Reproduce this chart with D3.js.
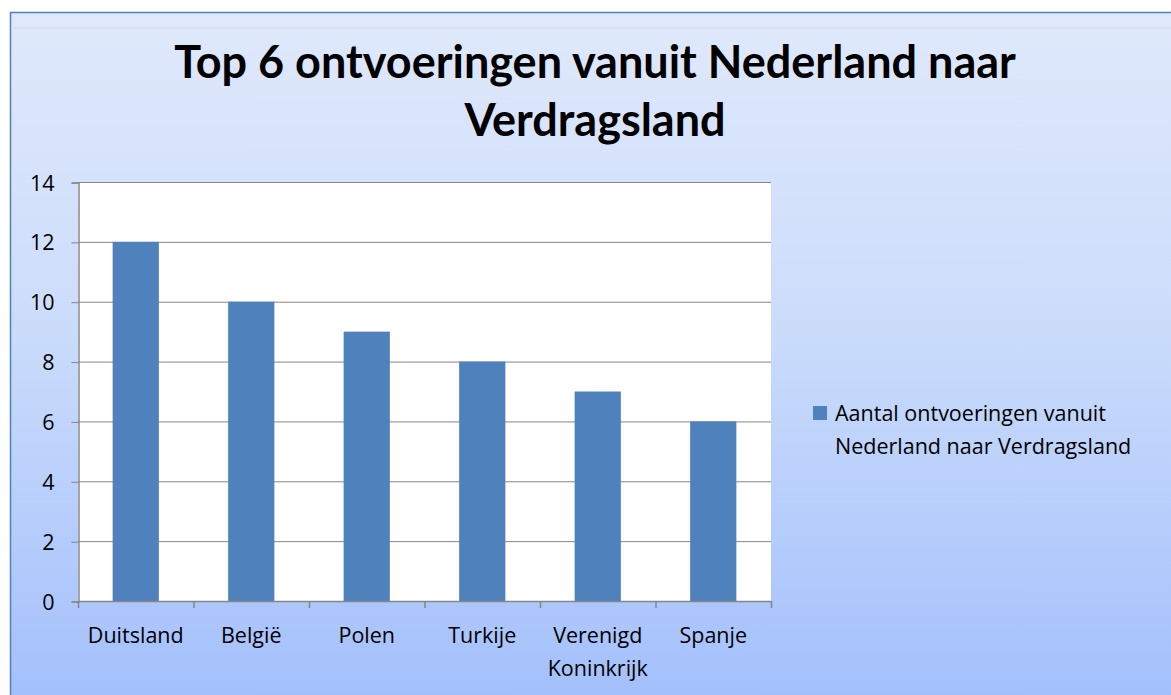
<!DOCTYPE html>
<html>
<head>
<meta charset="utf-8">
<script src="https://cdn.jsdelivr.net/npm/d3@7"></script>
<style>
  body { margin: 0; background: #fff; }
  text { font-family: "Open Sans", Lato, sans-serif; fill: #000; }
</style>
</head>
<body>
<svg id="chart" width="1171" height="695"></svg>
<script>
// data
const categories = ["Duitsland", "België", "Polen", "Turkije", "Verenigd Koninkrijk", "Spanje"];
const values = [12, 10, 9, 8, 7, 6];
const yTicks = [0, 2, 4, 6, 8, 10, 12, 14];
const titleLines = ["Top 6 ontvoeringen vanuit Nederland naar", "Verdragsland"];
const legendLines = ["Aantal ontvoeringen vanuit", "Nederland naar Verdragsland"];

const labelSize = "21.5px";
const svg = d3.select("#chart");

// background gradient
const defs = svg.append("defs");
const grad = defs.append("linearGradient")
  .attr("id", "bg").attr("x1", 0).attr("y1", 0).attr("x2", 0).attr("y2", 1);
grad.append("stop").attr("offset", "0%").attr("stop-color", "#e0e9fb");
grad.append("stop").attr("offset", "45%").attr("stop-color", "#cbdcfb");
grad.append("stop").attr("offset", "100%").attr("stop-color", "#a2bffc");

svg.append("rect")
  .attr("x", 10.5).attr("y", 12.5)
  .attr("width", 1180).attr("height", 700)
  .attr("fill", "url(#bg)")
  .attr("stroke", "#4f81bd").attr("stroke-width", 1.5);

svg.append("line")
  .attr("x1", 11).attr("x2", 1171).attr("y1", 28).attr("y2", 28)
  .attr("stroke", "#d2dcee").attr("stroke-width", 1);

// title
svg.append("text")
  .attr("x", 595).attr("y", 78)
  .attr("text-anchor", "middle")
  .style("font-family", "Lato, sans-serif")
  .style("font-size", "45px").style("font-weight", "bold")
  .selectAll("tspan")
  .data(titleLines)
  .join("tspan")
  .attr("x", 595)
  .attr("dy", (d, i) => i === 0 ? 0 : 58)
  .text(d => d);

const margin = { left: 78, top: 182, right: 771, bottom: 601 };

const x = d3.scaleBand()
  .domain(categories)
  .range([margin.left, margin.right])
  .paddingInner(0.6)
  .paddingOuter(0.3);

const y = d3.scaleLinear()
  .domain([0, 14])
  .range([margin.bottom, margin.top]);

// plot area
svg.append("rect")
  .attr("x", margin.left).attr("y", margin.top)
  .attr("width", margin.right - margin.left)
  .attr("height", margin.bottom - margin.top)
  .attr("fill", "#fff");

// gridlines
svg.append("g")
  .selectAll("line")
  .data(yTicks)
  .join("line")
  .attr("x1", margin.left).attr("x2", margin.right)
  .attr("y1", d => y(d) + 0.5).attr("y2", d => y(d) + 0.5)
  .attr("stroke", "#868686").attr("stroke-width", 1);

// bars
svg.append("g")
  .selectAll("rect")
  .data(values)
  .join("rect")
  .attr("x", (d, i) => x(categories[i]))
  .attr("y", d => y(d))
  .attr("width", x.bandwidth())
  .attr("height", d => y(0) - y(d))
  .attr("fill", "#4f81bd");

// y axis
const yAxis = svg.append("g")
  .attr("transform", `translate(${margin.left + 0.5},0.5)`)
  .call(d3.axisLeft(y).tickValues(yTicks).tickSize(7).tickPadding(17));
yAxis.select(".domain").attr("stroke", "#868686").attr("stroke-width", 1.5);
yAxis.selectAll(".tick line").attr("stroke", "#868686");
yAxis.selectAll(".tick text")
  .style("font-size", labelSize)
  .style("font-family", "'Open Sans', sans-serif")
  .attr("fill", "#000")
  .attr("dy", "0.35em");

// x axis with ticks at category boundaries
const xAxisG = svg.append("g");
xAxisG.append("line")
  .attr("x1", margin.left).attr("x2", margin.right)
  .attr("y1", margin.bottom + 0.5).attr("y2", margin.bottom + 0.5)
  .attr("stroke", "#868686").attr("stroke-width", 1.5);
const step = (margin.right - margin.left) / categories.length;
xAxisG.selectAll("line.tk")
  .data(d3.range(categories.length + 1))
  .join("line")
  .attr("class", "tk")
  .attr("x1", i => margin.left + i * step + 0.5)
  .attr("x2", i => margin.left + i * step + 0.5)
  .attr("y1", margin.bottom).attr("y2", margin.bottom + 7)
  .attr("stroke", "#868686").attr("stroke-width", 1.5);

xAxisG.selectAll("text")
  .data(categories)
  .join("text")
  .attr("text-anchor", "middle")
  .style("font-size", labelSize)
  .each(function(d) {
    const cx = x(d) + x.bandwidth() / 2;
    const words = d === "Verenigd Koninkrijk" ? d.split(" ") : [d];
    d3.select(this).selectAll("tspan")
      .data(words)
      .join("tspan")
      .attr("x", cx)
      .attr("y", (w, i) => 643 + i * 33)
      .text(w => w);
  });

// legend
svg.append("rect")
  .attr("x", 813).attr("y", 406)
  .attr("width", 14).attr("height", 14)
  .attr("fill", "#4f81bd");
svg.append("text")
  .style("font-size", labelSize)
  .selectAll("tspan")
  .data(legendLines)
  .join("tspan")
  .attr("x", 835)
  .attr("y", (d, i) => 421 + i * 33)
  .text(d => d);
</script>
</body>
</html>
